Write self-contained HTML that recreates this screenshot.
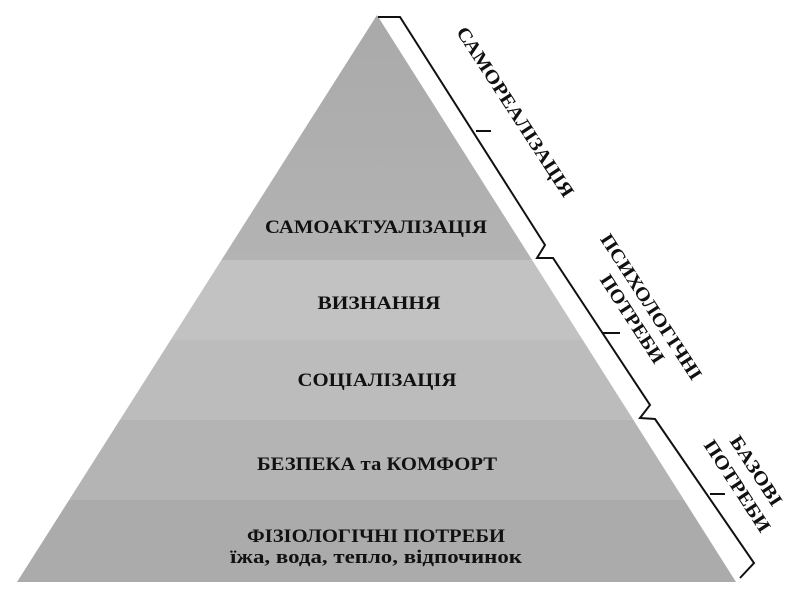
<!DOCTYPE html>
<html><head><meta charset="utf-8"><style>
html,body{margin:0;padding:0;background:#fff;}
svg{display:block;}
text{font-family:"Liberation Serif",serif;font-weight:bold;fill:#111;}
</style></head><body>
<svg width="800" height="596" viewBox="0 0 800 596">
<defs>
<clipPath id="tri"><polygon points="377,15 17,582 736,582"/></clipPath>
<linearGradient id="top" x1="0" y1="0" x2="0" y2="1">
<stop offset="0" stop-color="#a9a9a9"/><stop offset="1" stop-color="#b3b3b3"/>
</linearGradient>
</defs>
<g clip-path="url(#tri)">
<rect x="0" y="0" width="800" height="260" fill="url(#top)"/>
<rect x="0" y="260" width="800" height="80" fill="#c2c2c2"/>
<rect x="0" y="340" width="800" height="80" fill="#bcbcbc"/>
<rect x="0" y="420" width="800" height="80" fill="#b4b4b4"/>
<rect x="0" y="500" width="800" height="82" fill="#ababab"/>
</g>
<g font-size="19" text-anchor="middle">
<text x="376" y="233" textLength="222" lengthAdjust="spacingAndGlyphs">САМОАКТУАЛІЗАЦІЯ</text>
<text x="379" y="309" textLength="123" lengthAdjust="spacingAndGlyphs">ВИЗНАННЯ</text>
<text x="377" y="386" textLength="159" lengthAdjust="spacingAndGlyphs">СОЦІАЛІЗАЦІЯ</text>
<text x="377" y="470" textLength="240" lengthAdjust="spacingAndGlyphs">БЕЗПЕКА та КОМФОРТ</text>
<text x="376" y="542" textLength="258" lengthAdjust="spacingAndGlyphs">ФІЗІОЛОГІЧНІ ПОТРЕБИ</text>
<text x="376" y="563" textLength="292" lengthAdjust="spacingAndGlyphs">їжа, вода, тепло, відпочинок</text>
</g>
<g fill="none" stroke="#111" stroke-width="2">
<polyline points="378,17 400,17 545,245 537,258 553,258 650,405 640,418 655,419 754,563 740,578"/>
<line x1="476" y1="131" x2="491" y2="131"/>
<line x1="603" y1="333" x2="620" y2="333"/>
<line x1="710" y1="494" x2="725" y2="494"/>
</g>
<g font-size="19" text-anchor="middle">
<text transform="translate(515,112) rotate(57)" dy="6" textLength="199" lengthAdjust="spacingAndGlyphs">САМОРЕАЛІЗАЦІЯ</text>
<text transform="translate(651,307) rotate(57)" dy="6" textLength="170" lengthAdjust="spacingAndGlyphs">ПСИХОЛОГІЧНІ</text>
<text transform="translate(632,319) rotate(57)" dy="6" textLength="102" lengthAdjust="spacingAndGlyphs">ПОТРЕБИ</text>
<text transform="translate(756,471) rotate(57)" dy="6" textLength="80" lengthAdjust="spacingAndGlyphs">БАЗОВІ</text>
<text transform="translate(737,486) rotate(57)" dy="6" textLength="106" lengthAdjust="spacingAndGlyphs">ПОТРЕБИ</text>
</g>
</svg>
</body></html>
